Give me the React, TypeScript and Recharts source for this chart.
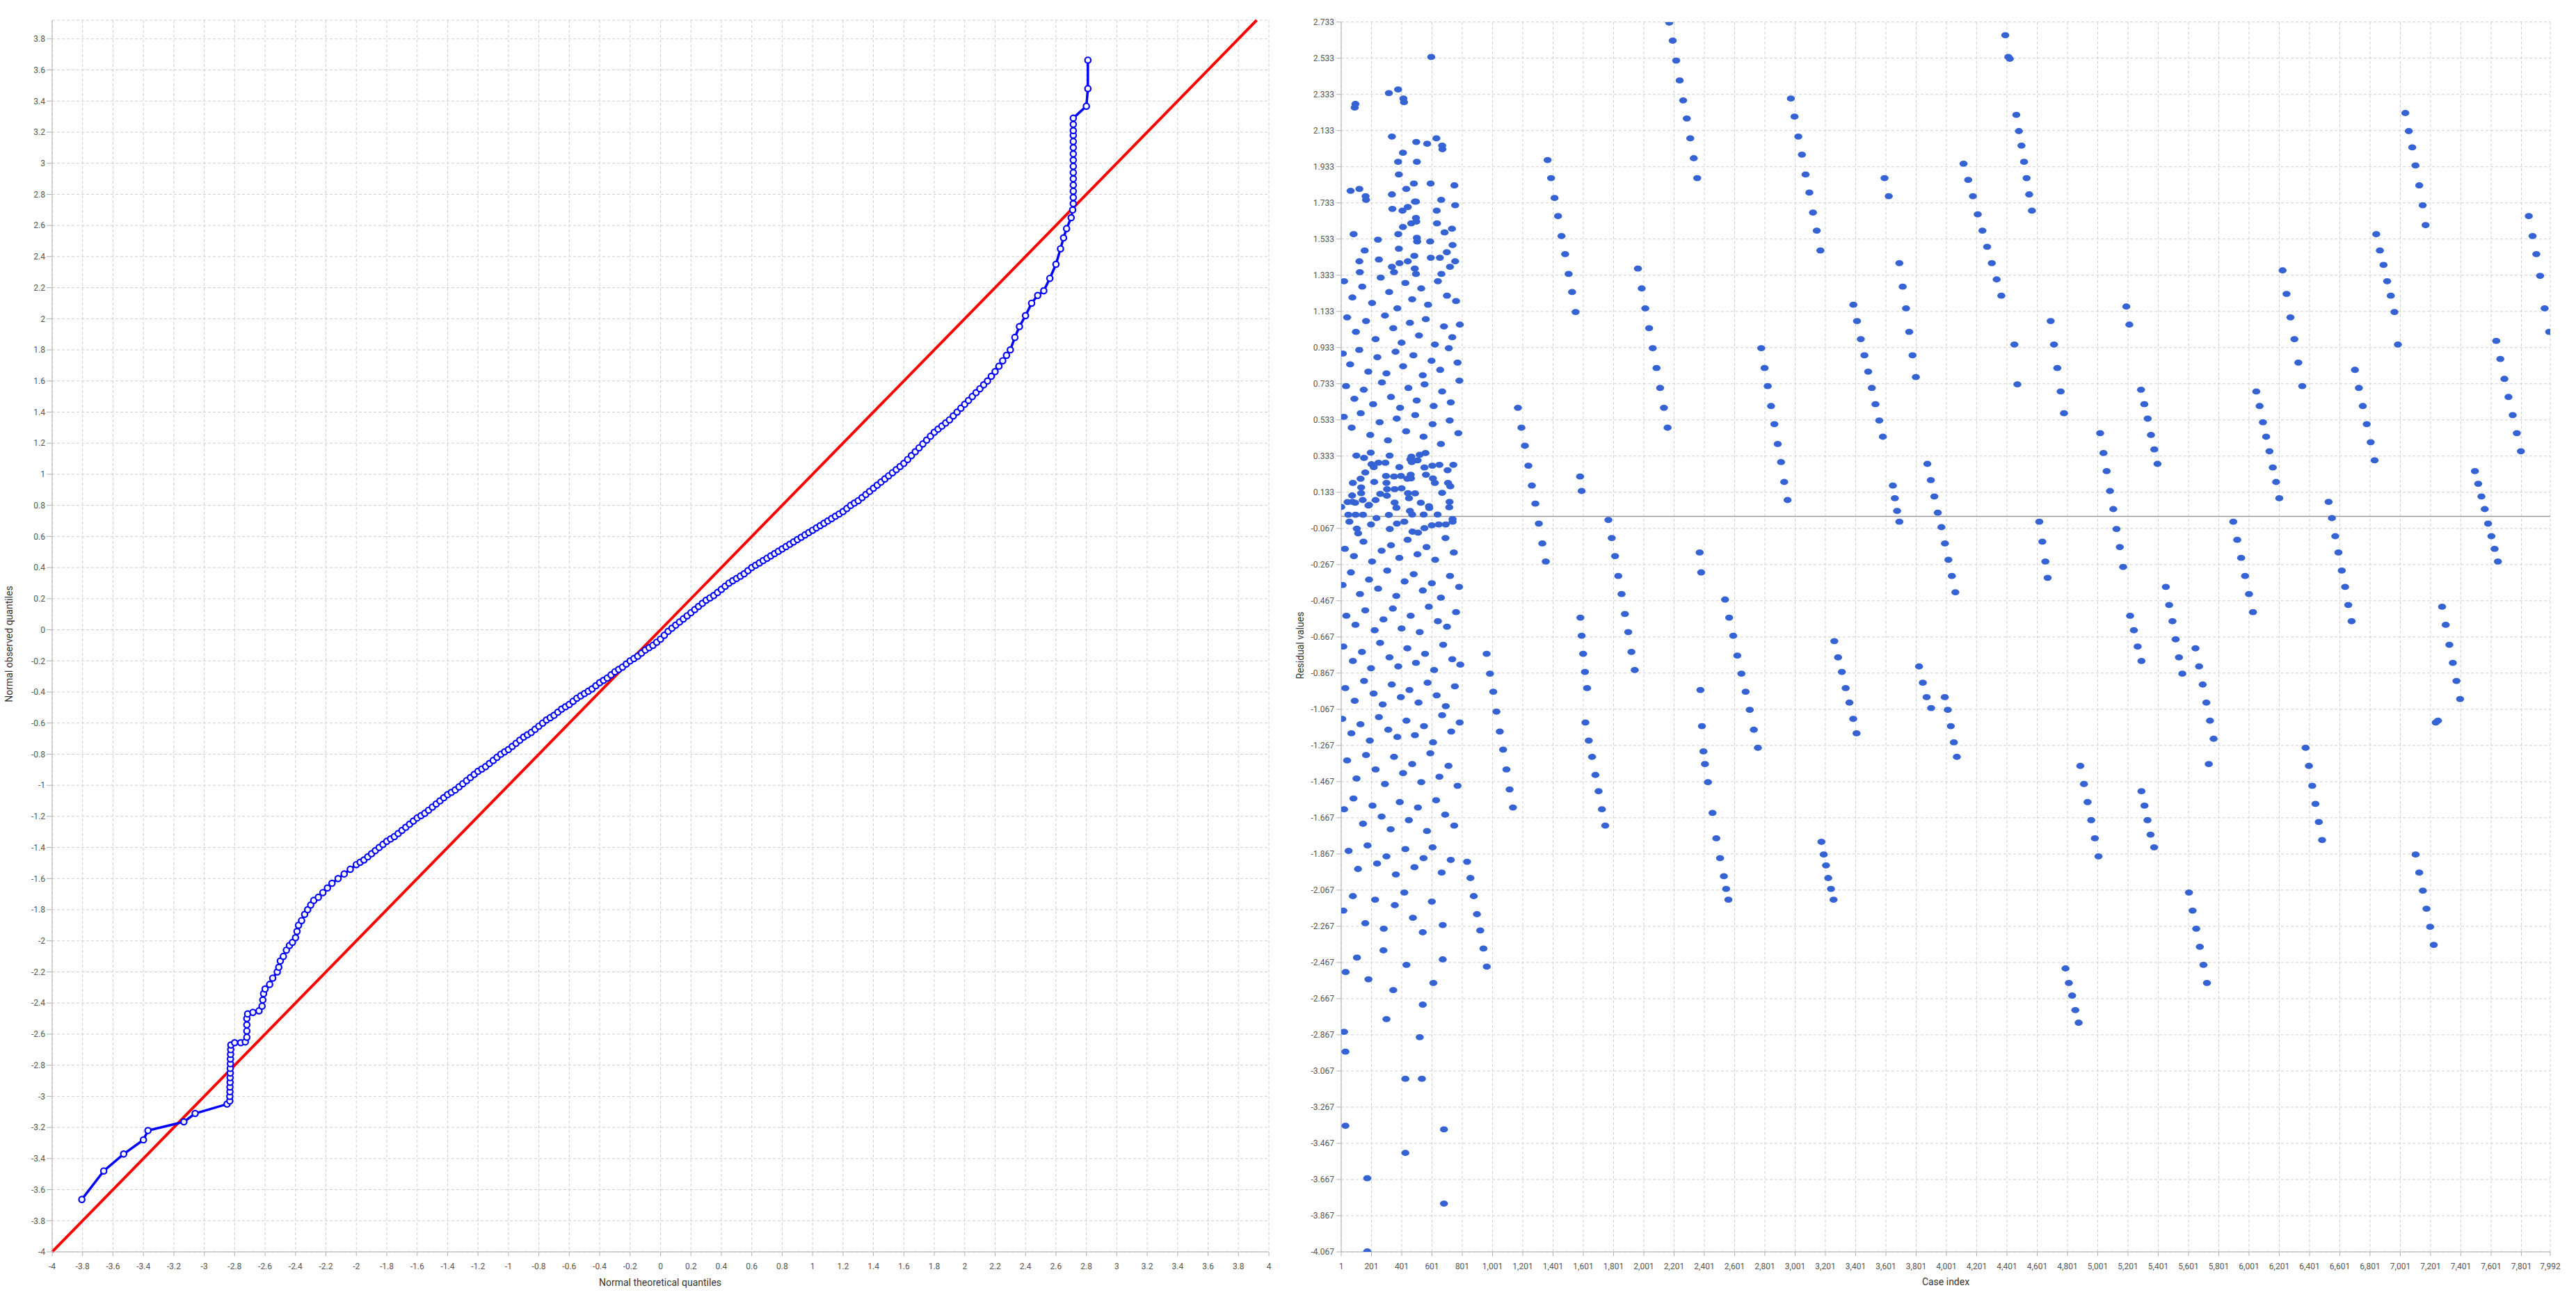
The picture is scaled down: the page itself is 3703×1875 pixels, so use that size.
import React from 'react';
import { ScatterChart, Scatter, XAxis, YAxis, CartesianGrid, ReferenceLine } from 'recharts';

type P = [number, number];

const qqXTicks = [-4, -3.8, -3.6, -3.4, -3.2, -3, -2.8, -2.6, -2.4, -2.2, -2, -1.8, -1.6, -1.4, -1.2, -1, -0.8, -0.6, -0.4, -0.2, 0, 0.2, 0.4, 0.6, 0.8, 1, 1.2, 1.4, 1.6, 1.8, 2, 2.2, 2.4, 2.6, 2.8, 3, 3.2, 3.4, 3.6, 3.8, 4];
const qqYTicks = [-4, -3.8, -3.6, -3.4, -3.2, -3, -2.8, -2.6, -2.4, -2.2, -2, -1.8, -1.6, -1.4, -1.2, -1, -0.8, -0.6, -0.4, -0.2, 0, 0.2, 0.4, 0.6, 0.8, 1, 1.2, 1.4, 1.6, 1.8, 2, 2.2, 2.4, 2.6, 2.8, 3, 3.2, 3.4, 3.6, 3.8];
const residTicks = [2.733, 2.533, 2.333, 2.133, 1.933, 1.733, 1.533, 1.333, 1.133, 0.933, 0.733, 0.533, 0.333, 0.133, -0.067, -0.267, -0.467, -0.667, -0.867, -1.067, -1.267, -1.467, -1.667, -1.867, -2.067, -2.267, -2.467, -2.667, -2.867, -3.067, -3.267, -3.467, -3.667, -3.867, -4.067];
const caseTicks = [1, 201, 401, 601, 801, 1001, 1201, 1401, 1601, 1801, 2001, 2201, 2401, 2601, 2801, 3001, 3201, 3401, 3601, 3801, 4001, 4201, 4401, 4601, 4801, 5001, 5201, 5401, 5601, 5801, 6001, 6201, 6401, 6601, 6801, 7001, 7201, 7401, 7601, 7801, 7992];

// Q-Q plot: [theoretical, observed]
const qqTail: P[] = [[-3.805, -3.663], [-3.661, -3.48], [-3.53, -3.371], [-3.40, -3.28], [-3.37, -3.22], [-3.134, -3.164], [-3.06, -3.11], [-2.85, -3.05]];
const qqLowSteps: P[] = [[-2.832, -3.03], [-2.832, -3.0], [-2.831, -2.97], [-2.831, -2.94], [-2.830, -2.91], [-2.830, -2.88], [-2.829, -2.85], [-2.829, -2.82], [-2.828, -2.79], [-2.828, -2.76], [-2.827, -2.73], [-2.826, -2.70], [-2.825, -2.67], [-2.80, -2.655], [-2.76, -2.655], [-2.73, -2.65], [-2.72, -2.62], [-2.72, -2.58], [-2.72, -2.54], [-2.72, -2.50], [-2.715, -2.47], [-2.68, -2.46], [-2.64, -2.45], [-2.62, -2.42], [-2.615, -2.38], [-2.61, -2.34], [-2.60, -2.31], [-2.57, -2.28], [-2.55, -2.24], [-2.52, -2.20], [-2.51, -2.17], [-2.50, -2.13], [-2.48, -2.10], [-2.46, -2.06], [-2.44, -2.03], [-2.42, -2.01], [-2.40, -1.98], [-2.39, -1.94], [-2.38, -1.90], [-2.36, -1.87], [-2.34, -1.83], [-2.32, -1.80], [-2.30, -1.77], [-2.28, -1.74], [-2.25, -1.72], [-2.22, -1.69], [-2.19, -1.66], [-2.16, -1.63], [-2.12, -1.60], [-2.08, -1.57], [-2.04, -1.54], [-2.00, -1.51]];
const qqBody: P[] = [[-1.975, -1.495], [-1.95, -1.48], [-1.925, -1.46], [-1.90, -1.44], [-1.875, -1.42], [-1.85, -1.40], [-1.825, -1.38], [-1.80, -1.36], [-1.775, -1.345], [-1.75, -1.33], [-1.725, -1.31], [-1.70, -1.29], [-1.675, -1.27], [-1.65, -1.25], [-1.625, -1.23], [-1.60, -1.21], [-1.575, -1.195], [-1.55, -1.18], [-1.525, -1.16], [-1.50, -1.14], [-1.475, -1.12], [-1.45, -1.10], [-1.425, -1.08], [-1.40, -1.06], [-1.375, -1.045], [-1.35, -1.03], [-1.325, -1.01], [-1.30, -0.99], [-1.275, -0.97], [-1.25, -0.95], [-1.225, -0.93], [-1.20, -0.91], [-1.175, -0.895], [-1.15, -0.88], [-1.125, -0.86], [-1.10, -0.84], [-1.075, -0.82], [-1.05, -0.80], [-1.025, -0.785], [-1.00, -0.77], [-0.975, -0.75], [-0.95, -0.73], [-0.925, -0.71], [-0.90, -0.69], [-0.875, -0.675], [-0.85, -0.66], [-0.825, -0.64], [-0.80, -0.62], [-0.775, -0.60], [-0.75, -0.58], [-0.725, -0.565], [-0.70, -0.55], [-0.675, -0.53], [-0.65, -0.51], [-0.625, -0.495], [-0.60, -0.48], [-0.575, -0.46], [-0.55, -0.44], [-0.525, -0.425], [-0.50, -0.41], [-0.475, -0.395], [-0.45, -0.38], [-0.425, -0.36], [-0.40, -0.34], [-0.375, -0.325], [-0.35, -0.31], [-0.325, -0.29], [-0.30, -0.27], [-0.275, -0.255], [-0.25, -0.24], [-0.225, -0.22], [-0.20, -0.20], [-0.175, -0.185], [-0.15, -0.17], [-0.125, -0.15], [-0.10, -0.13], [-0.075, -0.115], [-0.05, -0.10], [-0.025, -0.08], [0.00, -0.06], [0.025, -0.035], [0.05, -0.01], [0.075, 0.01], [0.10, 0.03], [0.125, 0.05], [0.15, 0.07], [0.175, 0.09], [0.20, 0.11], [0.225, 0.13], [0.25, 0.15], [0.275, 0.17], [0.30, 0.19], [0.325, 0.205], [0.35, 0.22], [0.375, 0.24], [0.40, 0.26], [0.425, 0.28], [0.45, 0.30], [0.475, 0.315], [0.50, 0.33], [0.525, 0.345], [0.55, 0.36], [0.575, 0.38], [0.60, 0.40], [0.625, 0.415], [0.65, 0.43], [0.675, 0.445], [0.70, 0.46], [0.725, 0.475], [0.75, 0.49], [0.775, 0.505], [0.80, 0.52], [0.825, 0.535], [0.85, 0.55], [0.875, 0.565], [0.90, 0.58], [0.925, 0.595], [0.95, 0.61], [0.975, 0.625], [1.00, 0.64], [1.025, 0.655], [1.05, 0.67], [1.075, 0.685], [1.10, 0.70], [1.125, 0.715], [1.15, 0.73], [1.175, 0.745], [1.20, 0.76], [1.225, 0.78], [1.25, 0.80], [1.275, 0.815], [1.30, 0.83], [1.325, 0.85], [1.35, 0.87], [1.375, 0.89], [1.40, 0.91], [1.425, 0.93], [1.45, 0.95], [1.475, 0.97], [1.50, 0.99], [1.525, 1.01], [1.55, 1.03], [1.575, 1.05], [1.60, 1.07], [1.625, 1.095], [1.65, 1.12], [1.675, 1.145], [1.70, 1.17], [1.725, 1.195], [1.75, 1.22], [1.775, 1.245], [1.80, 1.27], [1.825, 1.29], [1.85, 1.31], [1.875, 1.33], [1.90, 1.35], [1.925, 1.375], [1.95, 1.40], [1.975, 1.425], [2.00, 1.45], [2.025, 1.475], [2.05, 1.50], [2.075, 1.525], [2.10, 1.55], [2.125, 1.575], [2.15, 1.60], [2.175, 1.63], [2.20, 1.66], [2.225, 1.695], [2.25, 1.73], [2.275, 1.765], [2.30, 1.80], [2.33, 1.88], [2.36, 1.95], [2.40, 2.02], [2.44, 2.10], [2.48, 2.15], [2.52, 2.18], [2.56, 2.26], [2.60, 2.35], [2.63, 2.45], [2.65, 2.52], [2.67, 2.58], [2.70, 2.65], [2.71, 2.70]];
const qqTop: P[] = [[2.714, 2.74], [2.714, 2.78], [2.714, 2.82], [2.714, 2.86], [2.714, 2.90], [2.714, 2.94], [2.714, 2.98], [2.714, 3.02], [2.714, 3.06], [2.714, 3.10], [2.714, 3.14], [2.714, 3.18], [2.714, 3.21], [2.714, 3.25], [2.714, 3.29], [2.80, 3.367], [2.81, 3.48], [2.81, 3.663]];

// Residuals vs case index: [index, residual]
const cloudTop: P[] = [[596, 2.54], [90, 2.26], [95, 2.28], [316, 2.34], [377, 2.36], [412, 2.31], [416, 2.29], [336, 2.10], [497, 2.07], [569, 2.06], [630, 2.09], [668, 2.05], [670, 2.03], [409, 2.01], [377, 1.96], [501, 1.96], [382, 1.89], [63, 1.80], [121, 1.81], [162, 1.77], [165, 1.75], [336, 1.78], [431, 1.81], [481, 1.84], [592, 1.84], [749, 1.83], [488, 1.74], [495, 1.74], [662, 1.75], [339, 1.70], [406, 1.69], [441, 1.71], [632, 1.69], [754, 1.72], [495, 1.65], [497, 1.63], [634, 1.62], [464, 1.62], [409, 1.60], [733, 1.59], [684, 1.57], [83, 1.56], [244, 1.53], [378, 1.56], [501, 1.54], [503, 1.52], [589, 1.52], [737, 1.50], [156, 1.47], [382, 1.48], [699, 1.46], [121, 1.41], [250, 1.42], [441, 1.41], [484, 1.44], [593, 1.43], [653, 1.43], [754, 1.41], [386, 1.40], [336, 1.38], [350, 1.35], [124, 1.35], [487, 1.37], [720, 1.38], [495, 1.34], [663, 1.34]];
const cloudUpperMid: P[] = [[20, 1.30], [75, 1.21], [140, 1.27], [205, 1.18], [262, 1.32], [318, 1.24], [372, 1.15], [425, 1.29], [470, 1.20], [530, 1.26], [575, 1.17], [640, 1.30], [700, 1.22], [760, 1.19], [40, 1.10], [98, 1.02], [165, 1.08], [228, 0.98], [290, 1.11], [345, 1.04], [400, 0.96], [455, 1.07], [515, 1.00], [560, 1.09], [620, 0.95], [680, 1.05], [735, 0.99], [785, 1.06], [12, 0.90], [60, 0.84], [120, 0.92], [180, 0.80], [240, 0.88], [300, 0.79], [360, 0.91], [410, 0.83], [478, 0.89], [540, 0.78], [598, 0.86], [655, 0.81], [712, 0.93], [770, 0.85], [33, 0.72], [88, 0.65], [150, 0.70], [212, 0.62], [270, 0.74], [330, 0.66], [390, 0.60], [445, 0.71], [500, 0.64], [552, 0.73], [612, 0.61], [668, 0.69], [725, 0.63], [782, 0.75], [18, 0.55], [70, 0.49], [130, 0.57], [193, 0.45], [255, 0.52], [310, 0.42], [368, 0.54], [430, 0.47], [490, 0.56], [545, 0.44], [605, 0.51], [660, 0.40], [718, 0.53], [775, 0.46]];
const cloudZero: P[] = [[101, 0.336], [152, 0.323], [196, 0.352], [321, 0.336], [465, 0.33], [467, 0.30], [520, 0.34], [558, 0.35], [201, 0.288], [216, 0.272], [247, 0.296], [293, 0.296], [385, 0.272], [458, 0.315], [506, 0.31], [551, 0.27], [603, 0.28], [650, 0.285], [704, 0.255], [742, 0.285], [160, 0.242], [129, 0.208], [78, 0.185], [219, 0.19], [297, 0.223], [300, 0.185], [350, 0.22], [396, 0.223], [438, 0.208], [460, 0.23], [462, 0.21], [561, 0.23], [607, 0.21], [620, 0.185], [707, 0.185], [722, 0.166], [133, 0.128], [133, 0.16], [73, 0.115], [76, 0.08], [43, 0.079], [93, 0.075], [143, 0.09], [185, 0.063], [228, 0.09], [259, 0.124], [303, 0.114], [304, 0.15], [354, 0.15], [400, 0.155], [354, 0.076], [366, 0.047], [442, 0.128], [449, 0.1], [489, 0.127], [527, 0.075], [581, 0.056], [583, 0.046], [668, 0.13], [717, 0.08], [715, 0.05], [1, 0.052], [48, 0.009], [96, 0.009], [145, 0.009], [181, 0.06], [316, 0.008], [455, 0.03], [470, 0.01], [546, 0.01], [638, 0.01], [737, -0.015], [737, -0.03], [55, -0.03], [104, -0.068], [113, -0.094], [198, -0.045], [234, -0.01], [322, -0.07], [369, -0.04], [418, -0.03], [472, -0.085], [509, -0.09], [551, -0.065], [600, -0.05], [646, -0.045], [692, -0.045]];
const cloudLow: P[] = [[25, -0.18], [85, -0.22], [148, -0.14], [205, -0.25], [268, -0.19], [330, -0.16], [385, -0.23], [440, -0.13], [505, -0.21], [565, -0.17], [622, -0.24], [690, -0.12], [745, -0.20], [10, -0.38], [65, -0.31], [125, -0.43], [185, -0.35], [245, -0.40], [305, -0.30], [365, -0.44], [420, -0.36], [480, -0.32], [540, -0.41], [600, -0.37], [660, -0.45], [720, -0.33], [780, -0.39], [35, -0.55], [95, -0.60], [160, -0.52], [222, -0.63], [280, -0.57], [342, -0.51], [400, -0.62], [460, -0.55], [520, -0.64], [580, -0.50], [640, -0.58], [700, -0.61], [760, -0.53], [15, -0.72], [78, -0.80], [138, -0.75], [198, -0.84], [258, -0.70], [320, -0.78], [378, -0.83], [438, -0.73], [495, -0.81], [555, -0.76], [615, -0.85], [675, -0.71], [735, -0.79], [788, -0.82], [28, -0.95], [90, -1.02], [152, -0.91], [215, -0.98], [275, -1.04], [335, -0.93], [395, -1.00], [452, -0.96], [512, -1.03], [572, -0.92], [632, -0.99], [692, -1.05], [752, -0.94], [8, -1.12], [68, -1.20], [128, -1.15], [190, -1.24], [250, -1.11], [312, -1.18], [372, -1.22], [432, -1.13], [488, -1.21], [548, -1.16], [608, -1.25], [668, -1.10], [728, -1.19], [784, -1.14], [40, -1.35], [102, -1.45], [165, -1.32], [228, -1.40], [290, -1.48], [350, -1.33], [410, -1.42], [470, -1.37], [530, -1.47], [590, -1.31], [650, -1.44], [710, -1.38], [770, -1.49], [20, -1.62], [82, -1.56], [145, -1.70], [208, -1.60], [268, -1.66], [328, -1.73], [388, -1.58], [448, -1.68], [508, -1.61], [568, -1.74], [628, -1.57], [688, -1.65], [748, -1.71], [50, -1.85], [112, -1.95], [175, -1.82], [238, -1.92], [300, -1.88], [362, -1.98], [425, -1.84], [485, -1.94], [545, -1.89], [605, -1.83], [665, -1.97], [725, -1.90], [15, -2.18], [78, -2.10], [160, -2.25], [225, -2.12], [282, -2.28], [355, -2.15], [418, -2.08], [475, -2.22], [540, -2.30], [600, -2.13], [672, -2.26], [30, -2.52], [105, -2.44], [181, -2.56], [280, -2.40], [345, -2.62], [432, -2.48], [540, -2.70], [610, -2.58], [672, -2.45], [20, -2.85], [300, -2.78], [520, -2.88]];
const cloudOutliers: P[] = [[29, -2.96], [29, -3.37], [173, -3.66], [173, -4.065], [425, -3.11], [534, -3.11], [680, -3.39], [425, -3.52], [680, -3.80]];

const streaksA: P[] = [[833, -1.91], [855, -2.0], [877, -2.1], [898, -2.2], [920, -2.29], [941, -2.39], [963, -2.49], [962, -0.76], [984, -0.87], [1006, -0.97], [1027, -1.08], [1049, -1.19], [1071, -1.29], [1093, -1.40], [1114, -1.51], [1136, -1.61], [1169, 0.60], [1192, 0.49], [1215, 0.39], [1238, 0.28], [1261, 0.17], [1284, 0.07], [1307, -0.04], [1330, -0.15], [1353, -0.25], [1365, 1.97], [1388, 1.87], [1411, 1.76], [1434, 1.66], [1457, 1.55], [1481, 1.45], [1504, 1.34], [1527, 1.24], [1550, 1.13], [1580, 0.22], [1590, 0.14], [1582, -0.56], [1590, -0.66], [1600, -0.76], [1612, -0.86], [1626, -0.95], [1615, -1.14], [1637, -1.24], [1659, -1.33], [1681, -1.43], [1702, -1.52], [1724, -1.62], [1746, -1.71]];
const streaksB: P[] = [[1767, -0.02], [1789, -0.12], [1811, -0.22], [1832, -0.33], [1854, -0.43], [1876, -0.54], [1898, -0.64], [1919, -0.75], [1941, -0.85], [1962, 1.37], [1987, 1.26], [2011, 1.15], [2036, 1.04], [2060, 0.93], [2085, 0.82], [2109, 0.71], [2134, 0.60], [2158, 0.49], [2169, 2.73], [2192, 2.63], [2215, 2.52], [2238, 2.41], [2261, 2.30], [2285, 2.20], [2308, 2.09], [2331, 1.98], [2354, 1.87], [2370, -0.20], [2380, -0.31], [2375, -0.96], [2385, -1.16], [2395, -1.30], [2405, -1.37], [2425, -1.47], [2455, -1.64], [2480, -1.78], [2505, -1.89], [2530, -1.99], [2545, -2.06], [2560, -2.12], [2538, -0.46], [2565, -0.56], [2592, -0.66], [2619, -0.77], [2646, -0.87], [2674, -0.97], [2701, -1.07], [2728, -1.18], [2755, -1.28]];
const streaksC: P[] = [[2777, 0.93], [2799, 0.82], [2820, 0.72], [2842, 0.61], [2864, 0.51], [2886, 0.40], [2908, 0.30], [2929, 0.19], [2951, 0.09], [2973, 2.31], [2997, 2.21], [3022, 2.10], [3046, 2.00], [3070, 1.89], [3095, 1.79], [3119, 1.68], [3144, 1.58], [3168, 1.47], [3175, -1.80], [3190, -1.87], [3205, -1.93], [3220, -2.0], [3238, -2.06], [3255, -2.12], [3260, -0.69], [3285, -0.78], [3310, -0.86], [3335, -0.95], [3360, -1.03], [3385, -1.12], [3407, -1.20], [3386, 1.17], [3410, 1.08], [3435, 0.98], [3459, 0.89], [3484, 0.80], [3508, 0.71], [3532, 0.62], [3557, 0.53], [3581, 0.44], [3592, 1.87], [3620, 1.77], [3647, 0.17], [3660, 0.10], [3675, 0.03], [3690, -0.03], [3690, 1.40], [3712, 1.27], [3734, 1.15], [3755, 1.02], [3777, 0.89], [3799, 0.77]];
const streaksD: P[] = [[3820, -0.83], [3845, -0.92], [3870, -1.0], [3900, -1.06], [3990, -1.0], [4010, -1.07], [4030, -1.16], [4050, -1.25], [4070, -1.33], [3875, 0.29], [3898, 0.20], [3921, 0.11], [3944, 0.02], [3968, -0.06], [3991, -0.15], [4014, -0.24], [4037, -0.33], [4060, -0.42], [4114, 1.95], [4145, 1.86], [4176, 1.77], [4208, 1.67], [4239, 1.58], [4270, 1.49], [4301, 1.40], [4333, 1.31], [4364, 1.22], [4390, 2.66], [4410, 2.54], [4420, 2.53], [4463, 2.22], [4480, 2.13], [4497, 2.05], [4514, 1.96], [4531, 1.87], [4548, 1.78], [4566, 1.69], [4450, 0.95], [4470, 0.73], [4615, -0.03], [4635, -0.14], [4655, -0.25], [4670, -0.34], [4690, 1.08], [4712, 0.95], [4734, 0.82], [4756, 0.69], [4778, 0.57]];
const streaksE: P[] = [[4788, -2.50], [4810, -2.58], [4832, -2.65], [4853, -2.73], [4875, -2.80], [4886, -1.38], [4910, -1.48], [4934, -1.58], [4958, -1.68], [4982, -1.78], [5006, -1.88], [5017, 0.46], [5039, 0.35], [5060, 0.25], [5082, 0.14], [5104, 0.04], [5125, -0.07], [5147, -0.17], [5169, -0.28], [5190, 1.16], [5210, 1.06], [5215, -0.55], [5240, -0.63], [5265, -0.72], [5290, -0.80], [5287, 0.70], [5309, 0.62], [5331, 0.54], [5353, 0.45], [5375, 0.37], [5396, 0.29], [5290, -1.52], [5310, -1.60], [5330, -1.68], [5350, -1.76], [5374, -1.83], [5451, -0.39], [5473, -0.49], [5495, -0.58], [5516, -0.68], [5538, -0.78], [5560, -0.87]];
const streaksF: P[] = [[5604, -2.08], [5628, -2.18], [5652, -2.28], [5676, -2.38], [5700, -2.48], [5723, -2.58], [5647, -0.73], [5671, -0.83], [5695, -0.93], [5719, -1.03], [5743, -1.13], [5767, -1.23], [5735, -1.37], [5897, -0.03], [5923, -0.13], [5949, -0.23], [5975, -0.33], [6001, -0.43], [6027, -0.53], [6049, 0.69], [6071, 0.61], [6093, 0.52], [6114, 0.44], [6136, 0.36], [6158, 0.27], [6180, 0.19], [6201, 0.10], [6223, 1.36], [6249, 1.23], [6275, 1.10], [6301, 0.98], [6327, 0.85], [6353, 0.72], [6375, -1.28], [6397, -1.38], [6419, -1.49], [6440, -1.59], [6462, -1.69], [6484, -1.79]];
const streaksG: P[] = [[6527, 0.08], [6549, -0.01], [6571, -0.11], [6592, -0.20], [6614, -0.30], [6636, -0.39], [6657, -0.49], [6679, -0.58], [6701, 0.81], [6727, 0.71], [6753, 0.61], [6779, 0.51], [6805, 0.41], [6831, 0.31], [6842, 1.56], [6866, 1.47], [6890, 1.39], [6914, 1.30], [6938, 1.22], [6962, 1.13], [6985, 0.95], [7034, 2.23], [7057, 2.13], [7080, 2.04], [7101, 1.94], [7126, 1.83], [7149, 1.72], [7168, 1.61], [7102, -1.87], [7126, -1.97], [7150, -2.07], [7174, -2.17], [7198, -2.27], [7222, -2.37], [7235, -1.14], [7250, -1.13], [7277, -0.50], [7301, -0.60], [7325, -0.71], [7348, -0.81], [7372, -0.91], [7396, -1.01], [7494, 0.25], [7516, 0.18], [7537, 0.11], [7559, 0.04], [7581, -0.04], [7603, -0.11], [7624, -0.18], [7646, -0.25], [7635, 0.97], [7662, 0.87], [7689, 0.76], [7716, 0.66], [7744, 0.56], [7771, 0.46], [7798, 0.36], [7850, 1.66], [7875, 1.55], [7900, 1.45], [7925, 1.33], [7955, 1.15], [7985, 1.02]];

const toPts = (a: P[]) => a.map(([x, y]) => ({ x, y }));
const qqData = toPts([...qqTail, ...qqLowSteps, ...qqBody, ...qqTop]);
const residData = toPts([...cloudTop, ...cloudUpperMid, ...cloudZero, ...cloudLow, ...cloudOutliers, ...streaksA, ...streaksB, ...streaksC, ...streaksD, ...streaksE, ...streaksF, ...streaksG]);

const FONT = 'Roboto, "Open Sans", sans-serif';
const tickStyle = { fontSize: 12, fill: '#555', fontFamily: FONT };
const AXIS = '#b0b0b0';
const GRID = '#cfcfcf';

const QQDot = (p: any) => <circle cx={p.cx} cy={p.cy} r={4.2} fill="#ffffff" stroke="#0000ff" strokeWidth={2.2} />;
const ResDot = (p: any) => <ellipse cx={p.cx} cy={p.cy} rx={5.8} ry={4.4} fill="#3563d3" />;

const fmtCase = (v: number) => v.toLocaleString('en-US');

const titleStyle: React.CSSProperties = { position: 'absolute', fontFamily: FONT, fontSize: 14, color: '#333', whiteSpace: 'nowrap' };

export default function App() {
  return (
    <div style={{ position: 'absolute', left: 0, top: 0, width: 3703, height: 1875, background: '#fff', overflow: 'hidden' }}>
      <div style={{ position: 'absolute', left: 0, top: 0 }}>
        <ScatterChart width={1850} height={1875} margin={{ top: 29, right: 26, bottom: 25, left: 15 }}>
          <CartesianGrid stroke={GRID} strokeDasharray="4 3" />
          <XAxis type="number" dataKey="x" domain={[-4, 4]} ticks={qqXTicks} interval={0} allowDataOverflow height={50} tickSize={6} tickMargin={10} stroke={AXIS} tick={tickStyle} />
          <YAxis type="number" dataKey="y" domain={[-4, 3.92]} ticks={qqYTicks} interval={0} allowDataOverflow width={60} tickSize={8} tickMargin={2} stroke={AXIS} tick={tickStyle} />
          <ReferenceLine segment={[{ x: -4, y: -4 }, { x: 3.92, y: 3.92 }]} stroke="#ff0000" strokeWidth={4} ifOverflow="visible" />
          <Scatter data={qqData} line={{ stroke: '#0000ff', strokeWidth: 3.5 }} shape={QQDot} isAnimationActive={false} />
        </ScatterChart>
      </div>
      <div style={{ position: 'absolute', left: 1850, top: 0 }}>
        <ScatterChart width={1853} height={1875} margin={{ top: 31.7, right: 37, bottom: 25, left: 18 }}>
          <CartesianGrid stroke={GRID} strokeDasharray="4 3" />
          <XAxis type="number" dataKey="x" domain={[1, 7992]} ticks={caseTicks} interval={0} allowDataOverflow height={50} tickSize={6} tickMargin={10} stroke={AXIS} tick={tickStyle} tickFormatter={fmtCase} />
          <YAxis type="number" dataKey="y" domain={[-4.067, 2.733]} ticks={residTicks} interval={0} allowDataOverflow width={60} tickSize={7} tickMargin={3} stroke={AXIS} tick={tickStyle} tickFormatter={(v: number) => v.toFixed(3)} />
          <ReferenceLine y={0} stroke="#999999" strokeWidth={1.5} />
          <Scatter data={residData} shape={ResDot} isAnimationActive={false} />
        </ScatterChart>
      </div>
      <div style={{ ...titleStyle, left: 949, top: 1844, transform: 'translate(-50%, -50%)' }}>Normal theoretical quantiles</div>
      <div style={{ ...titleStyle, left: 13, top: 926, transform: 'translate(-50%, -50%) rotate(-90deg)' }}>Normal observed quantiles</div>
      <div style={{ ...titleStyle, left: 2797, top: 1843, transform: 'translate(-50%, -50%)' }}>Case index</div>
      <div style={{ ...titleStyle, left: 1869, top: 928, transform: 'translate(-50%, -50%) rotate(-90deg)' }}>Residual values</div>
    </div>
  );
}
